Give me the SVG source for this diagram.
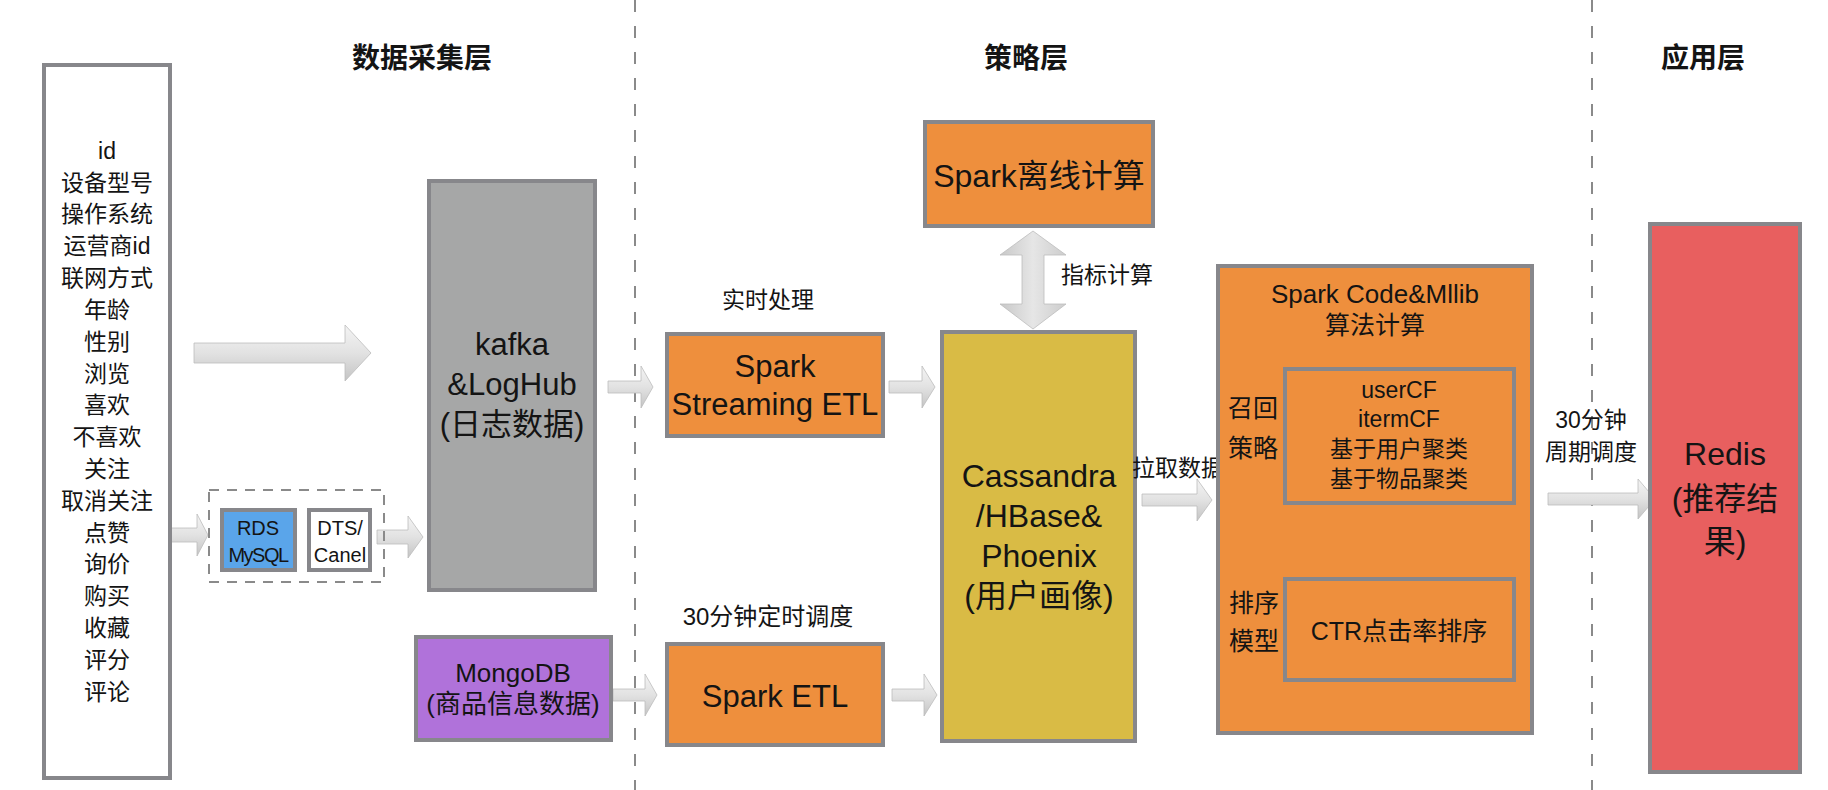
<svg xmlns="http://www.w3.org/2000/svg" width="1828" height="790" viewBox="0 0 1828 790">
<defs>
<linearGradient id="gh" x1="0" y1="0" x2="0" y2="1">
<stop offset="0" stop-color="#f4f4f4"/>
<stop offset="0.5" stop-color="#e2e2e2"/>
<stop offset="1" stop-color="#c4c4c4"/>
</linearGradient>
<linearGradient id="gv" x1="0" y1="0" x2="1" y2="0">
<stop offset="0" stop-color="#c8c8c8"/>
<stop offset="0.5" stop-color="#e6e6e6"/>
<stop offset="1" stop-color="#cdcdcd"/>
</linearGradient>
</defs>
<style>
text{font-family:"Liberation Sans","Noto Sans CJK SC",sans-serif;fill:#141414;text-anchor:middle}
.t{font-size:28px;font-weight:bold}
.box{stroke:#87878b;stroke-width:4}
.or{fill:#ee8f3d}
.dash{fill:none;stroke:#8a8a8a;stroke-width:2;stroke-dasharray:12 14}
.arr{fill:url(#gh);stroke:#bdbdbd;stroke-width:0.8}
.f23{font-size:23px}
.f25{font-size:25px}
.f26{font-size:26px}
.f31{font-size:31px}
.f32{font-size:32px}
.l{text-anchor:start}
</style>
<rect width="1828" height="790" fill="#ffffff"/>

<g id="layers">
<line class="dash" x1="635" y1="0" x2="635" y2="790"/>
<line class="dash" x1="1592" y1="0" x2="1592" y2="790"/>
<text class="t" x="422" y="68">数据采集层</text>
<text class="t" x="1026" y="68">策略层</text>
<text class="t" x="1703" y="68">应用层</text>
</g>

<g id="connectors">
<path class="arr" d="M194,343 L345,343 L345,325 L371,353 L345,381 L345,363 L194,363 Z"/>
<path class="arr" d="M165,528 L197,528 L197,514 L208,535 L197,556 L197,542 L165,542 Z"/>
<path class="arr" d="M377,530 L408,530 L408,516 L423,537 L408,558 L408,544 L377,544 Z"/>
<path class="arr" d="M608,381 L641,381 L641,366 L653,387 L641,408 L641,393 L608,393 Z"/>
<path class="arr" d="M889,381 L922,381 L922,366 L935,387 L922,408 L922,393 L889,393 Z"/>
<path class="arr" d="M613,689 L645,689 L645,674 L657,695 L645,716 L645,701 L613,701 Z"/>
<path class="arr" d="M892,689 L924,689 L924,674 L937,695 L924,716 L924,701 L892,701 Z"/>
<path class="arr" d="M1142,494 L1197,494 L1197,479 L1212,500 L1197,521 L1197,506 L1142,506 Z"/>
<path class="arr" d="M1548,493 L1638,493 L1638,479 L1655,499 L1638,519 L1638,505 L1548,505 Z"/>
<path d="M1033,231 L1066,255 L1044,255 L1044,304 L1066,304 L1033,329 L1000,304 L1022,304 L1022,255 L1000,255 Z" fill="url(#gv)" stroke="#bdbdbd" stroke-width="0.8"/>
</g>

<g id="user-features">
<rect class="box" x="44" y="65" width="126" height="713" fill="#ffffff"/>
<text class="f23" x="107" y="159">id</text>
<text class="f23" x="107" y="191">设备型号</text>
<text class="f23" x="107" y="222">操作系统</text>
<text class="f23" x="107" y="254">运营商id</text>
<text class="f23" x="107" y="286">联网方式</text>
<text class="f23" x="107" y="318">年龄</text>
<text class="f23" x="107" y="350">性别</text>
<text class="f23" x="107" y="382">浏览</text>
<text class="f23" x="107" y="413">喜欢</text>
<text class="f23" x="107" y="445">不喜欢</text>
<text class="f23" x="107" y="477">关注</text>
<text class="f23" x="107" y="509">取消关注</text>
<text class="f23" x="107" y="541">点赞</text>
<text class="f23" x="107" y="572">询价</text>
<text class="f23" x="107" y="604">购买</text>
<text class="f23" x="107" y="636">收藏</text>
<text class="f23" x="107" y="668">评分</text>
<text class="f23" x="107" y="700">评论</text>
</g>

<g id="db-sync">
<rect x="209" y="490" width="175" height="92" fill="none" stroke="#8a8a8a" stroke-width="2" stroke-dasharray="10 8"/>
</g>
<g id="rds">
<rect class="box" x="222" y="510" width="73" height="60" fill="#5aa5ea"/>
<text x="258" y="535" style="font-size:20px">RDS</text>
<text x="258" y="562" style="font-size:20px;letter-spacing:-1.5px">MySQL</text>
</g>
<g id="dts">
<rect class="box" x="309" y="510" width="61" height="60" fill="#ffffff"/>
<text x="340" y="535" style="font-size:20px">DTS/</text>
<text x="340" y="562" style="font-size:20px">Canel</text>
</g>

<g id="kafka">
<rect class="box" x="429" y="181" width="166" height="409" fill="#a6a7a7"/>
<text class="f31" x="512" y="355">kafka</text>
<text class="f31" x="512" y="395">&amp;LogHub</text>
<text class="f31" x="512" y="435">(日志数据)</text>
</g>

<g id="mongodb">
<rect class="box" x="416" y="637" width="195" height="103" fill="#b072da"/>
<text class="f26" x="513" y="682">MongoDB</text>
<text class="f26" x="513" y="713">(商品信息数据)</text>
</g>

<g id="spark-streaming">
<text class="f23" x="768" y="308">实时处理</text>
<rect class="box or" x="667" y="334" width="216" height="102"/>
<text class="f31" x="775" y="377">Spark</text>
<text class="f31" x="775" y="415">Streaming ETL</text>
</g>

<g id="spark-etl">
<text style="font-size:24px" x="768" y="625">30分钟定时调度</text>
<rect class="box or" x="667" y="644" width="216" height="101"/>
<text class="f31" x="775" y="707">Spark ETL</text>
</g>

<g id="spark-offline">
<rect class="box or" x="925" y="122" width="228" height="104"/>
<text class="f32" x="1039" y="187">Spark离线计算</text>
<text class="f23 l" x="1061" y="283">指标计算</text>
</g>

<g id="cassandra">
<rect class="box" x="942" y="332" width="193" height="409" fill="#d9bb45"/>
<text class="f32" x="1039" y="487">Cassandra</text>
<text class="f32" x="1039" y="527">/HBase&amp;</text>
<text class="f32" x="1039" y="567">Phoenix</text>
<text class="f32" x="1039" y="607">(用户画像)</text>
<text class="f23 l" x="1132" y="476">拉取数据</text>
</g>

<g id="spark-mllib">
<rect class="box or" x="1218" y="266" width="314" height="467"/>
<text class="f26" x="1375" y="303">Spark Code&amp;Mllib</text>
<text class="f25" x="1375" y="334">算法计算</text>
<text class="f25 l" x="1228" y="417">召回</text>
<text class="f25 l" x="1228" y="457">策略</text>
<text class="f25 l" x="1229" y="612">排序</text>
<text class="f25 l" x="1229" y="650">模型</text>
</g>
<g id="recall">
<rect class="box or" x="1285" y="369" width="229" height="134"/>
<text class="f23" x="1399" y="398">userCF</text>
<text class="f23" x="1399" y="427">itermCF</text>
<text class="f23" x="1399" y="457">基于用户聚类</text>
<text class="f23" x="1399" y="487">基于物品聚类</text>
</g>
<g id="ranking">
<rect class="box or" x="1285" y="579" width="229" height="101"/>
<text class="f25" x="1399" y="640">CTR点击率排序</text>
</g>

<g id="schedule-label">
<text class="f23" x="1591" y="428">30分钟</text>
<text class="f23" x="1591" y="460">周期调度</text>
</g>

<g id="redis">
<rect class="box" x="1650" y="224" width="150" height="548" fill="#e85f5f"/>
<text class="f32" x="1725" y="465">Redis</text>
<text class="f32" x="1725" y="510">(推荐结</text>
<text class="f32" x="1725" y="553">果)</text>
</g>
</svg>
